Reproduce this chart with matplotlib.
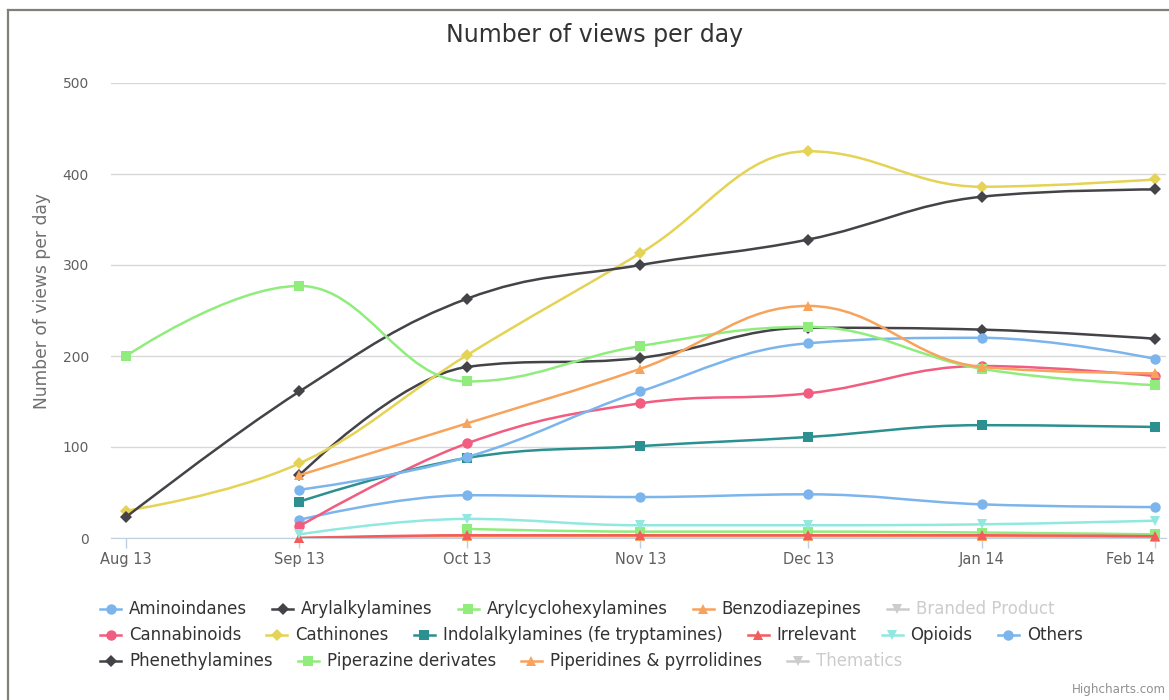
# Number of views per day, by substance category (Highcharts-style spline chart)

import matplotlib
matplotlib.use("Agg")
import matplotlib.pyplot as plt
import matplotlib.dates as mdates
from matplotlib.path import Path
from matplotlib.patches import PathPatch
from matplotlib.lines import Line2D
from datetime import datetime

# ---- data ----
months = [datetime(2013, 8, 1), datetime(2013, 9, 1), datetime(2013, 10, 1),
          datetime(2013, 11, 1), datetime(2013, 12, 1), datetime(2014, 1, 1),
          datetime(2014, 2, 1)]

N = None
aminoindanes         = [N, 20, 47, 45, 48, 37, 34]
arylalkylamines      = [N, 69, 188, 198, 231, 229, 219]
arylcyclohexylamines = [N, N, 10, 7, 7, 6, 4]
benzodiazepines      = [N, 0, 2, 2, 2, 2, 1]
branded_product      = [N, N, N, N, N, N, N]
cannabinoids         = [N, 13, 104, 148, 159, 189, 178]
cathinones           = [30, 82, 201, 313, 425, 386, 394]
indolalkylamines     = [N, 40, 88, 101, 111, 124, 122]
irrelevant           = [N, 0, 3, 3, 3, 3, 2]
opioids              = [N, 4, 21, 14, 14, 15, 19]
others               = [N, 53, 89, 161, 214, 220, 197]
phenethylamines      = [23, 161, 263, 300, 328, 375, 383]
piperazine_derivates = [200, 277, 172, 211, 232, 186, 168]
piperidines          = [N, 69, 126, 186, 255, 188, 181]
thematics            = [N, N, N, N, N, N, N]

series = [
    ("Aminoindanes", aminoindanes, "#7cb5ec", "o", True),
    ("Arylalkylamines", arylalkylamines, "#434348", "D", True),
    ("Arylcyclohexylamines", arylcyclohexylamines, "#90ed7d", "s", True),
    ("Benzodiazepines", benzodiazepines, "#f7a35c", "^", True),
    ("Branded Product", branded_product, "#8085e9", "v", False),
    ("Cannabinoids", cannabinoids, "#f15c80", "o", True),
    ("Cathinones", cathinones, "#e4d354", "D", True),
    ("Indolalkylamines (fe tryptamines)", indolalkylamines, "#2b908f", "s", True),
    ("Irrelevant", irrelevant, "#f45b5b", "^", True),
    ("Opioids", opioids, "#91e8e1", "v", True),
    ("Others", others, "#7cb5ec", "o", True),
    ("Phenethylamines", phenethylamines, "#434348", "D", True),
    ("Piperazine derivates", piperazine_derivates, "#90ed7d", "s", True),
    ("Piperidines & pyrrolidines", piperidines, "#f7a35c", "^", True),
    ("Thematics", thematics, "#8085e9", "v", False),
]
legend_rows = [5, 6, 4]

W, H = 1169, 700
MARKER_SIZE = {"o": 7.5, "D": 6.5, "s": 7.0, "^": 7.5, "v": 7.5}


def spline_path(xs, ys):
    """Bezier path through the points, same control points as Highcharts' spline."""
    pts = [(x, y) for x, y in zip(xs, ys) if y is not None]
    n = len(pts)
    left, right = list(pts), list(pts)
    for i in range(1, n - 1):
        x, y = pts[i]
        lx, ly = pts[i - 1]
        nx, ny = pts[i + 1]
        lcx, lcy = (1.5 * x + lx) / 2.5, (1.5 * y + ly) / 2.5
        rcx, rcy = (1.5 * x + nx) / 2.5, (1.5 * y + ny) / 2.5
        corr = ((rcy - lcy) * (rcx - x)) / (rcx - lcx) + y - rcy
        lcy += corr
        rcy += corr
        if lcy > ly and lcy > y:
            lcy = max(ly, y); rcy = 2 * y - lcy
        elif lcy < ly and lcy < y:
            lcy = min(ly, y); rcy = 2 * y - lcy
        if rcy > ny and rcy > y:
            rcy = max(ny, y); lcy = 2 * y - rcy
        elif rcy < ny and rcy < y:
            rcy = min(ny, y); lcy = 2 * y - rcy
        left[i] = (lcx, lcy)
        right[i] = (rcx, rcy)
    verts = [pts[0]]
    codes = [Path.MOVETO]
    for i in range(1, n):
        verts += [right[i - 1], left[i], pts[i]]
        codes += [Path.CURVE4] * 3
    return Path(verts, codes)


fig = plt.figure(figsize=(W / 100, H / 100), dpi=100)
ax = fig.add_axes([111 / W, 1 - 538 / H, (1166 - 111) / W, (538 - 83) / H])

xnum = mdates.date2num(months)
for i, (name, vals, color, marker, visible) in enumerate(series):
    if not visible:
        continue
    path = spline_path(xnum, vals)
    ax.add_patch(PathPatch(path, facecolor="none", edgecolor=color, lw=1.8,
                           zorder=3 + i, capstyle="round", joinstyle="round"))
    px = [x for x, v in zip(xnum, vals) if v is not None]
    py = [v for v in vals if v is not None]
    ax.plot(px, py, linestyle="none", marker=marker, color=color,
            markersize=MARKER_SIZE[marker], markeredgewidth=0, zorder=3 + i,
            clip_on=False)

# axes styling
ax.set_ylim(0, 500)
ax.set_yticks(range(0, 501, 100))
ax.set_xlim(xnum[0] - 2.7, xnum[-1] + 2.0)
ax.set_xticks(xnum)
ax.xaxis.set_major_formatter(mdates.DateFormatter("%b %y"))
ax.grid(axis="y", color="#d8d8d8", lw=1)
ax.set_axisbelow(True)
for s in ["top", "right", "left"]:
    ax.spines[s].set_visible(False)
ax.spines["bottom"].set_color("#c0d0e0")
ax.spines["bottom"].set_zorder(2.5)
ax.tick_params(axis="y", length=0, pad=16, labelsize=10, labelcolor="#606060")
ax.tick_params(axis="x", length=7, width=1, color="#c0d0e0", pad=3,
               labelsize=10.5, labelcolor="#606060")
ax.get_xticklabels()[-1].set_horizontalalignment("right")
ax.get_xticklabels()[-1].set_x(xnum[-1])

fig.text(595 / W, 1 - 35 / H, "Number of views per day", ha="center",
         va="center", fontsize=17, color="#333333")
fig.text(42 / W, 1 - 301 / H, "Number of views per day", ha="center",
         va="center", rotation=90, fontsize=12.3, color="#707070")
fig.text(1166 / W, 1 - 690 / H, "Highcharts.com", ha="right", va="center",
         fontsize=8.6, color="#909090")

# chart border (left and top edges visible in the screenshot)
fig.add_artist(Line2D([8 / W, 8 / W], [0, 1 - 10 / H], color="#808078", lw=1.6))
fig.add_artist(Line2D([8 / W, 1], [1 - 10 / H, 1 - 10 / H], color="#808078", lw=1.6))

# legend, laid out in flowing rows like Highcharts
renderer = fig.canvas.get_renderer()
idx = 0
for r, count in enumerate(legend_rows):
    y = 609 + r * 26
    x = 100
    for name, vals, color, marker, visible in series[idx:idx + count]:
        c = color if visible else "#cccccc"
        tc = "#333333" if visible else "#cccccc"
        fig.add_artist(Line2D([x / W, (x + 21) / W], [1 - y / H, 1 - y / H],
                              color=c, lw=1.8))
        fig.add_artist(Line2D([(x + 10.5) / W], [1 - y / H], color=c,
                              marker=marker, markersize=MARKER_SIZE[marker],
                              markeredgewidth=0, linestyle="none"))
        t = fig.text((x + 29) / W, 1 - y / H, name, ha="left", va="center",
                     fontsize=12, color=tc)
        bb = t.get_window_extent(renderer)
        x = bb.x1 + 25
    idx += count

fig.savefig("out.png", dpi=100)
